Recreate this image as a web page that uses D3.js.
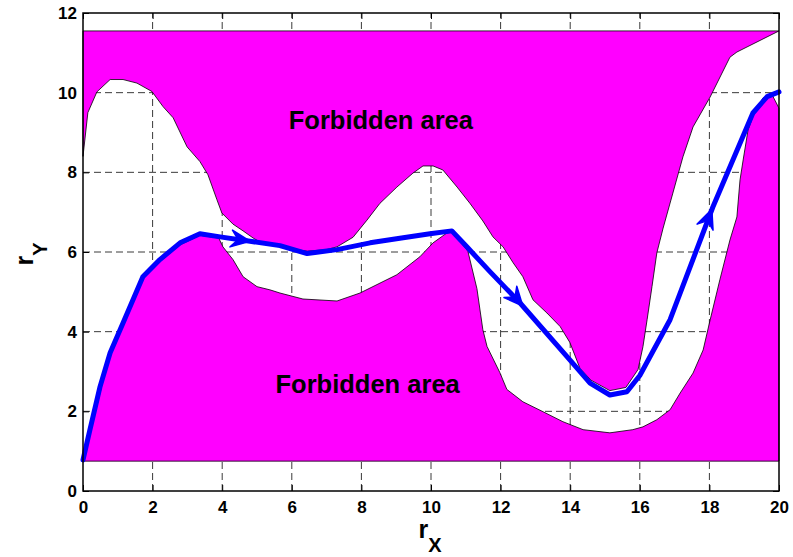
<!DOCTYPE html>
<html>
<head>
<meta charset="utf-8">
<script src="https://cdn.jsdelivr.net/npm/d3@7"></script>
<style>
  body { margin: 0; background: #fff; }
  text { font-family: "Liberation Sans", Arial, sans-serif; font-weight: bold; }
</style>
</head>
<body>
<svg id="chart" width="793" height="557"></svg>
<script>
// ticks
var xTicks = [0, 2, 4, 6, 8, 10, 12, 14, 16, 18, 20];
var yTicks = [0, 2, 4, 6, 8, 10, 12];

// forbidden regions (edges of the magenta patches)
var topEdge = 11.55, bottomEdge = 0.75;

// lower boundary of the upper forbidden area, [rX, rY]
var upperBound = [
  [0, 8.4], [0.14, 9.5], [0.4, 10.02], [0.78, 10.33], [1.15, 10.33], [1.55, 10.24],
  [1.98, 10.03], [2.3, 9.65], [2.59, 9.37], [2.99, 8.64], [3.36, 8.27], [3.59, 7.94],
  [3.85, 7.31], [3.99, 6.98], [4.31, 6.7], [4.6, 6.53], [4.89, 6.35], [5.09, 6.25],
  [5.66, 6.13], [5.95, 6.08], [6.45, 6.02], [7.0, 6.06], [7.3, 6.13], [7.76, 6.37],
  [8.16, 6.8], [8.53, 7.22], [9.02, 7.63], [9.48, 7.98], [9.77, 8.16], [10.06, 8.16],
  [10.34, 8.06], [10.75, 7.63], [11.12, 7.22], [11.49, 6.78], [11.78, 6.38], [12.07, 6.13],
  [12.36, 5.73], [12.64, 5.38], [12.93, 4.8], [13.33, 4.47], [13.71, 4.13], [13.99, 3.73],
  [14.28, 3.08], [14.6, 2.78], [15.14, 2.52], [15.6, 2.6], [15.95, 3.05], [16.09, 3.62],
  [16.21, 4.3], [16.35, 5.13], [16.49, 5.98], [16.67, 6.6], [16.95, 7.48], [17.24, 8.39],
  [17.53, 9.14], [18.02, 9.89], [18.59, 10.89], [18.79, 11.02], [20, 11.55]
];

// upper boundary of the lower forbidden area, [rX, rY]
var lowerBound = [
  [0, 0.75], [0.29, 1.75], [0.57, 2.75], [0.78, 3.4], [1.15, 4.17], [1.72, 5.33],
  [2.21, 5.76], [2.79, 6.18], [3.36, 6.42], [3.9, 6.35], [4.02, 6.13], [4.31, 5.81],
  [4.6, 5.38], [5.0, 5.13], [5.37, 5.05], [5.66, 4.97], [6.32, 4.82], [7.3, 4.77],
  [7.96, 4.97], [9.02, 5.43], [9.68, 5.88], [10.06, 6.23], [10.46, 6.48], [10.62, 6.5],
  [11.06, 6.02], [11.32, 5.08], [11.49, 4.05], [11.61, 3.63], [11.98, 2.97], [12.18, 2.55],
  [12.64, 2.24], [13.22, 1.99], [13.79, 1.74], [14.37, 1.54], [15.14, 1.46], [15.8, 1.54],
  [16.09, 1.61], [16.49, 1.79], [16.87, 2.04], [17.16, 2.46], [17.53, 2.96], [17.82, 3.54],
  [18.02, 4.29], [18.3, 5.3], [18.59, 6.3], [18.79, 6.88], [18.88, 7.81], [18.97, 8.31],
  [19.11, 9.06], [19.25, 9.4], [19.54, 9.87], [19.8, 9.95], [20, 9.61]
];

// robot path
var pathPts = [
  [0, 0.78], [0.2, 1.54], [0.49, 2.62], [0.78, 3.47], [1.15, 4.22], [1.72, 5.38],
  [2.21, 5.81], [2.79, 6.23], [3.36, 6.46], [3.94, 6.38], [4.8, 6.27], [5.66, 6.16],
  [6.44, 5.96], [7.3, 6.06], [8.25, 6.23], [9.2, 6.36], [9.97, 6.46], [10.6, 6.53],
  [11.03, 6.13], [11.7, 5.5], [12.56, 4.72], [13.99, 3.29], [14.57, 2.71], [15.14, 2.41],
  [15.63, 2.49], [16.0, 2.9], [16.87, 4.3], [18.1, 7.13], [19.25, 9.49], [19.66, 9.9],
  [20, 10.02]
];

// arrow tips on the path
var arrowTips = [[4.8, 6.27], [12.64, 4.64], [18.07, 7.07]];

var labels = [
  {text: "Forbidden area", x: 8.56, y: 9.1},
  {text: "Forbidden area", x: 8.18, y: 2.47}
];

var svg = d3.select("#chart"),
    margin = {top: 13, right: 14, bottom: 66, left: 83},
    width = +svg.attr("width") - margin.left - margin.right,
    height = +svg.attr("height") - margin.top - margin.bottom,
    g = svg.append("g").attr("transform", "translate(" + margin.left + "," + margin.top + ")");

var x = d3.scaleLinear().domain([0, 20]).range([0, width]);
var y = d3.scaleLinear().domain([0, 12]).range([height, 0]);

// grid
g.append("g").selectAll("line")
  .data(xTicks.slice(1, -1))
  .enter().append("line")
    .attr("x1", function(d) { return x(d); })
    .attr("x2", function(d) { return x(d); })
    .attr("y1", y(0))
    .attr("y2", y(12));
g.append("g").selectAll("line")
  .data(yTicks.slice(1, -1))
  .enter().append("line")
    .attr("x1", x(0))
    .attr("x2", x(20))
    .attr("y1", function(d) { return y(d); })
    .attr("y2", function(d) { return y(d); });
g.selectAll("line")
  .attr("stroke", "#3a3a3a")
  .attr("stroke-width", 1)
  .attr("stroke-dasharray", "7,4");

// axes (ticks inward, under the patches)
var xAxis = g.append("g")
    .attr("transform", "translate(0," + height + ")")
    .call(d3.axisBottom(x).tickValues(xTicks).tickSizeInner(-6).tickSizeOuter(0).tickPadding(10));
var yAxis = g.append("g")
    .call(d3.axisLeft(y).tickValues(yTicks).tickSizeInner(-6).tickSizeOuter(0).tickPadding(6));
g.append("g")
    .call(d3.axisTop(x).tickValues(xTicks).tickSizeInner(-6).tickSizeOuter(0).tickFormat(""));
g.append("g")
    .attr("transform", "translate(" + width + ",0)")
    .call(d3.axisRight(y).tickValues(yTicks).tickSizeInner(-6).tickSizeOuter(0).tickFormat(""));
g.selectAll(".domain").remove();
g.selectAll(".tick line").attr("stroke", "#000").attr("stroke-dasharray", null);
[xAxis, yAxis].forEach(function(a) {
  a.selectAll("text")
    .attr("fill", "#000")
    .style("font-size", "17px")
    .style("font-family", "'Liberation Sans', Arial, sans-serif")
    .style("font-weight", "bold");
});

var line = d3.line()
    .x(function(d) { return x(d[0]); })
    .y(function(d) { return y(d[1]); });

// forbidden areas
var topPoly = [[0, topEdge]].concat(upperBound, [[20, topEdge]]);
var botPoly = [[0, bottomEdge]].concat(lowerBound, [[20, bottomEdge]]);
g.selectAll(".area")
  .data([topPoly, botPoly])
  .enter().append("path")
    .attr("class", "area")
    .attr("d", function(d) { return line(d) + "Z"; })
    .attr("fill", "#ff00ff")
    .attr("stroke", "#000")
    .attr("stroke-width", 0.8)
    .attr("stroke-linejoin", "round");

// path
g.append("path")
  .datum(pathPts)
  .attr("d", line)
  .attr("fill", "none")
  .attr("stroke", "#0000ff")
  .attr("stroke-width", 5)
  .attr("stroke-linejoin", "round")
  .attr("stroke-linecap", "round");

// arrow heads, aligned with the path segment under the tip
function segAngle(t) {
  for (var i = 1; i < pathPts.length; i++) {
    if (pathPts[i][0] >= t[0]) {
      var a = pathPts[i - 1], b = pathPts[i];
      return Math.atan2(y(b[1]) - y(a[1]), x(b[0]) - x(a[0])) * 180 / Math.PI;
    }
  }
  return 0;
}
g.selectAll(".arrow")
  .data(arrowTips)
  .enter().append("path")
    .attr("class", "arrow")
    .attr("d", "M0,0L-19,-8.5L-12,0L-19,8.5Z")
    .attr("transform", function(d) {
      return "translate(" + x(d[0]) + "," + y(d[1]) + ") rotate(" + segAngle(d) + ")";
    })
    .attr("fill", "#0000ff")
    .attr("stroke", "#0000ff")
    .attr("stroke-width", 1.5)
    .attr("stroke-linejoin", "round");

// frame
g.append("rect")
  .attr("width", width)
  .attr("height", height)
  .attr("fill", "none")
  .attr("stroke", "#000")
  .attr("stroke-width", 1.5);

// region labels
g.selectAll(".lab")
  .data(labels)
  .enter().append("text")
    .attr("class", "lab")
    .attr("x", function(d) { return x(d.x); })
    .attr("y", function(d) { return y(d.y); })
    .attr("text-anchor", "middle")
    .style("font-size", "25.5px")
    .text(function(d) { return d.text; });

// axis labels
var xl = svg.append("text")
    .attr("x", 430)
    .attr("y", 538)
    .attr("text-anchor", "middle");
xl.append("tspan").style("font-size", "25px").text("r");
xl.append("tspan").style("font-size", "20px").attr("dy", 14).text("X");

var yl = svg.append("text")
    .attr("transform", "translate(33,254) rotate(-90)")
    .attr("text-anchor", "middle");
yl.append("tspan").style("font-size", "25px").text("r");
yl.append("tspan").style("font-size", "20px").attr("dy", 14).text("Y");
</script>
</body>
</html>
